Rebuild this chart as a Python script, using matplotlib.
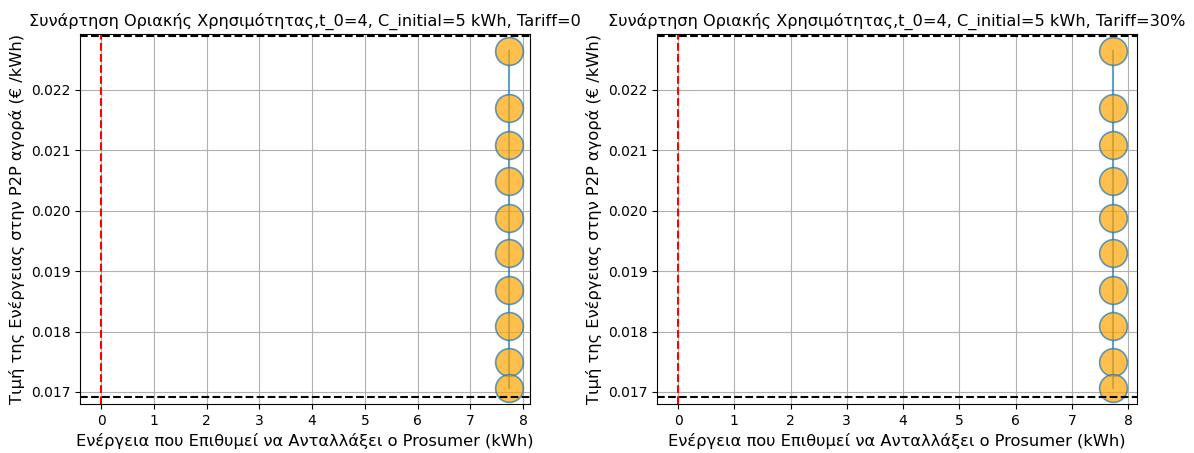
import matplotlib
matplotlib.use("Agg")
import matplotlib.pyplot as plt

energy = [7.73] * 10
prices = [0.022646, 0.02170, 0.02109, 0.02049, 0.01988, 0.01930, 0.01869, 0.01809, 0.01750, 0.01707]
upper_price = 0.02289
lower_price = 0.016917
tariffs = ["0", "30%"]

fig = plt.figure(figsize=(11.94, 4.53), dpi=100)
axes_rects = [[80/1194, 1-404/453, 450/1194, 370/453],
              [657/1194, 1-404/453, 480/1194, 370/453]]
xlims = [(-0.40, 8.13), (-0.375, 8.16)]
for rect, tariff, xl in zip(axes_rects, tariffs, xlims):
    ax = fig.add_axes(rect)
    ax.plot(energy, prices, '-o', color='C0', alpha=0.7, markersize=20,
            markerfacecolor='orange', markeredgecolor='C0', markeredgewidth=1.2)
    ax.axvline(0, color='red', linestyle='--', linewidth=1.5)
    ax.axhline(upper_price, color='black', linestyle='--', linewidth=1.5)
    ax.axhline(lower_price, color='black', linestyle='--', linewidth=1.5)
    ax.set_xlim(*xl)
    ax.set_ylim(0.016801, 0.022927)
    ax.set_xticks(range(0, 9))
    ax.set_yticks([0.017, 0.018, 0.019, 0.020, 0.021, 0.022])
    ax.grid(True)
    ax.set_title(f"Συνάρτηση Οριακής Χρησιμότητας,t_0=4, C_initial=5 kWh, Tariff={tariff}", fontsize=11.6)
    ax.set_xlabel("Ενέργεια που Επιθυμεί να Ανταλλάξει ο Prosumer (kWh)", fontsize=11.7)
    ax.set_ylabel("Τιμή της Ενέργειας στην P2P αγορά (€ /kWh)", fontsize=11.7)

fig.savefig("out.png", dpi=100)
